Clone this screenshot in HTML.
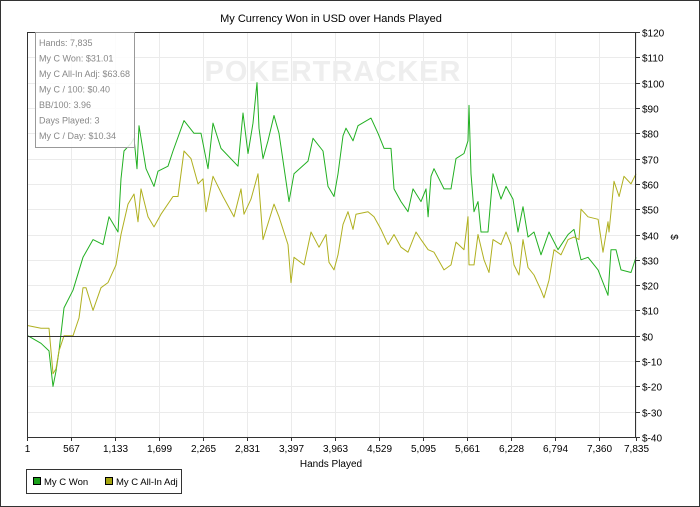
<!DOCTYPE html>
<html><head><meta charset="utf-8"><style>
body{margin:0;background:#fff;font-family:"Liberation Sans",sans-serif}
#wrap{position:relative;width:700px;height:507px;box-sizing:border-box;border:1px solid #333;background:#fff;overflow:hidden}
svg{position:absolute;left:0;top:0}
</style></head><body>
<div id="wrap">
<svg id="c" width="700" height="507">
<text x="330" y="21" font-size="11" text-anchor="middle" fill="#000">My Currency Won in USD over Hands Played</text>
<g id="grid"></g>
<text x="332" y="80" font-size="29" font-weight="bold" fill="#eeeeee" text-anchor="middle" letter-spacing="1">POKERTRACKER</text>
<g id="series"></g>
<g id="axes"></g>
<g>
<rect x="34.5" y="31.5" width="99" height="115" fill="#fff" fill-opacity="0.85" stroke="#999"/>
<g font-size="9" fill="#888">
<text x="38" y="45">Hands: 7,835</text>
<text x="38" y="60.5">My C Won: $31.01</text>
<text x="38" y="76">My C All-In Adj: $63.68</text>
<text x="38" y="91.5">My C / 100: $0.40</text>
<text x="38" y="107">BB/100: 3.96</text>
<text x="38" y="122.5">Days Played: 3</text>
<text x="38" y="138">My C / Day: $10.34</text>
</g></g>
<text x="330" y="466" font-size="10" text-anchor="middle">Hands Played</text>
<text x="0" y="0" font-size="10" transform="translate(670,236) rotate(90)" text-anchor="middle">$</text>
<g>
<rect x="25.5" y="468.5" width="155" height="24" fill="#fff" stroke="#333"/>
<g><rect x="32.5" y="476.5" width="7" height="7" fill="#1aa01a" stroke="#000"/><text x="43" y="484" font-size="9.5">My C Won</text></g>
<g><rect x="104.5" y="476.5" width="7" height="7" fill="#a5a510" stroke="#000"/><text x="115" y="484" font-size="9.5">My C All-In Adj</text></g>
</g>
</svg></div>
<script>
const xTicks=[1,567,1133,1699,2265,2831,3397,3963,4529,5095,5661,6228,6794,7360,7835];
const xTickLabels=["1","567","1,133","1,699","2,265","2,831","3,397","3,963","4,529","5,095","5,661","6,228","6,794","7,360","7,835"];
const yTicks=[120,110,100,90,80,70,60,50,40,30,20,10,0,-10,-20,-30,-40];
const wonHands=[14,181,284,335,374,413,477,593,721,850,979,1056,1172,1210,1249,1339,1377,1416,1442,1532,1635,1686,1815,1879,2021,2149,2239,2329,2394,2497,2715,2780,2844,2908,2960,2985,3037,3101,3178,3243,3371,3436,3616,3680,3809,3873,3950,4002,4066,4105,4195,4259,4426,4516,4594,4684,4722,4812,4902,4967,5069,5134,5160,5198,5237,5365,5455,5520,5623,5674,5687,5713,5751,5803,5841,5931,5996,6098,6163,6253,6317,6381,6446,6523,6613,6716,6832,6961,7038,7128,7218,7347,7411,7475,7514,7578,7642,7771,7835];
const wonValues=[0,-3,-6,-20,-14,-6,11,18,31,38,36,47,41,62,73,76,78,66,83,66,59,65,67,73,85,80,80,66,84,74,67,88,72,84,100,82,70,77,87,80,53,64,69,78,73,59,55,64,79,82,77,83,86,80,74,74,58,53,49,58,53,58,47,63,66,58,58,70,72,77,91,64,49,53,41,41,64,54,59,54,41,51,39,41,32,41,34,40,42,30,31,26,21,16,34,34,26,25,31];
const adjHands=[14,181,284,335,374,413,477,593,670,721,760,850,953,1043,1146,1210,1300,1377,1429,1468,1558,1635,1725,1879,1943,2021,2111,2201,2265,2304,2394,2522,2664,2754,2792,2883,2973,3037,3178,3243,3359,3397,3436,3564,3654,3757,3847,3886,3950,4002,4066,4130,4195,4233,4388,4465,4555,4645,4722,4812,4902,5005,5069,5160,5237,5365,5455,5520,5623,5674,5687,5751,5803,5880,5944,5996,6098,6163,6227,6266,6330,6381,6446,6523,6613,6652,6716,6780,6870,6961,7038,7102,7128,7218,7347,7411,7475,7488,7552,7617,7681,7771,7835];
const adjValues=[4,3,3,-15,-13,-6,0,0,7,19,19,10,19,21,28,40,52,56,45,58,47,43,48,55,55,73,70,60,62,49,63,55,47,58,48,54,64,38,52,47,36,21,31,28,41,35,40,29,26,32,44,49,42,48,49,47,42,36,40,35,33,41,38,34,33,26,28,37,34,47,28,28,40,30,25,38,36,41,36,28,24,38,27,24,18,15,22,34,32,38,39,38,50,47,46,33,45,41,61,55,63,60,64];
const L=26,R=635,T=31,B=436,X0=1,X1=7835,Y0=-40,Y1=120;
const sx=h=>L+(h-X0)/(X1-X0)*(R-L);
const sy=v=>B-(v-Y0)/(Y1-Y0)*(B-T);
const NS="http://www.w3.org/2000/svg";
function mk(tag,attrs,parent){const e=document.createElementNS(NS,tag);for(const k in attrs)e.setAttribute(k,attrs[k]);parent.appendChild(e);return e;}
const grid=document.getElementById('grid'),axes=document.getElementById('axes'),ser=document.getElementById('series');
yTicks.forEach(v=>{const y=Math.round(sy(v))+0.5;
 const g=mk('line',{x1:L,x2:R,y1:y,y2:y,stroke:'#ebebeb'},grid);
 
 
 mk('line',{x1:R,x2:R+4,y1:y,y2:y,stroke:'#333'},axes);
 const t=mk('text',{x:R+6,y:y+4,'font-size':10},axes);t.textContent='$'+v;
 
 
});
xTicks.forEach((h,i)=>{const x=Math.round(sx(h))+0.5;
 const g=mk('line',{x1:x,x2:x,y1:T,y2:B,stroke:'#ebebeb'},grid);
 
 
 mk('line',{x1:x,x2:x,y1:B,y2:B+4,stroke:'#333'},axes);
 const t=mk('text',{x:x,y:B+15,'font-size':10,'text-anchor':'middle'},axes);t.textContent=xTickLabels[i];
 
 
});
mk('rect',{x:L+0.5,y:T+0.5,width:R-L-1,height:B-T,fill:'none',stroke:'#333'},axes);
mk('line',{x1:L,x2:R,y1:Math.round(sy(0))+0.5,y2:Math.round(sy(0))+0.5,stroke:'#333'},axes);
function line(hs,vs,color,name){
 const d=hs.map((h,i)=>(i?'L':'M')+sx(h).toFixed(1)+','+sy(vs[i]).toFixed(1)).join('');
 const p=mk('path',{d:d,fill:'none',stroke:color,'stroke-width':1,'stroke-linejoin':'round'},ser);
 
 
}
line(wonHands,wonValues,'#22b022','line-my-c-won');
line(adjHands,adjValues,'#b0b020','line-my-c-all-in-adj');
</script>
</body></html>
